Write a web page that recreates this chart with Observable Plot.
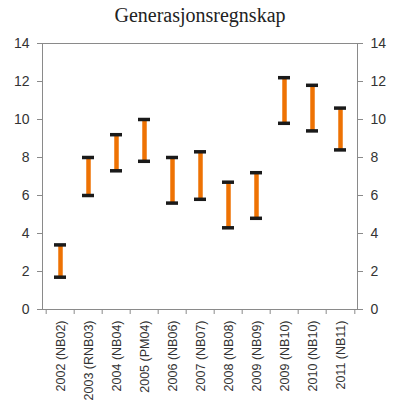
<!DOCTYPE html>
<html>
<head>
<meta charset="utf-8">
<script src="https://cdn.jsdelivr.net/npm/d3@7"></script>
<script src="https://cdn.jsdelivr.net/npm/@observablehq/plot@0.6"></script>
<style>
  body { margin: 0; background: #fff; }
  #title { font-family: "Liberation Serif", serif; font-size: 20px; text-align: center; height: 30px; line-height: 30px; color: #222; }
</style>
</head>
<body>
<div id="title">Generasjonsregnskap</div>
<div id="chart"></div>
<script>
const labels = ["2002 (NB02)", "2003 (RNB03)", "2004 (NB04)", "2005 (PM04)", "2006 (NB06)", "2007 (NB07)",
  "2008 (NB08)", "2009 (NB09)", "2009 (NB10)", "2010 (NB10)", "2011 (NB11)"];
const high = [3.4, 8.0, 9.2, 10.0, 8.0, 8.3, 6.7, 7.2, 12.2, 11.8, 10.6];
const low = [1.7, 6.0, 7.3, 7.8, 5.6, 5.8, 4.3, 4.8, 9.8, 9.4, 8.4];
const yTicks = [0, 2, 4, 6, 8, 10, 12, 14];

const data = labels.map((l, i) => ({label: l, high: high[i], low: low[i]}));

const W = 400, mL = 42, mR = 43;
const bw = (W - mL - mR) / labels.length;

const chart = Plot.plot({
  width: W,
  height: 384,
  marginLeft: mL,
  marginRight: mR,
  marginTop: 13,
  marginBottom: 105,
  style: {fontFamily: "Liberation Sans, Arial, sans-serif", fontSize: "12px", color: "#333"},
  x: {domain: labels, padding: 0, label: null},
  y: {domain: [0, 14], label: null},
  marks: [
    Plot.frame({stroke: "#8a8a8a"}),
    Plot.axisY({anchor: "left", ticks: yTicks, tickSize: 5, tickPadding: 8, label: null, stroke: "#8a8a8a", fontSize: 14}),
    Plot.axisY({anchor: "right", ticks: yTicks, tickSize: 5, tickPadding: 8, label: null, stroke: "#8a8a8a", fontSize: 14}),
    Plot.axisX({tickSize: 5, text: null, dx: -bw / 2, stroke: "#8a8a8a"}),
    Plot.axisX({ticks: [labels[labels.length - 1]], tickSize: 5, text: null, dx: bw / 2, stroke: "#8a8a8a"}),
    Plot.axisX({tickSize: 0, tickPadding: 11, tickRotate: -90, label: null, fontSize: 12.5}),
    Plot.ruleX(data, {x: "label", y1: "low", y2: "high", stroke: "#EE7203", strokeWidth: 4.5}),
    Plot.tickY(data, {x: "label", y: "high", stroke: "#1a1a1a", strokeWidth: 3.5, insetLeft: 8, insetRight: 8}),
    Plot.tickY(data, {x: "label", y: "low", stroke: "#1a1a1a", strokeWidth: 3.5, insetLeft: 8, insetRight: 8})
  ]
});

document.getElementById("chart").appendChild(chart);
</script>
</body>
</html>
